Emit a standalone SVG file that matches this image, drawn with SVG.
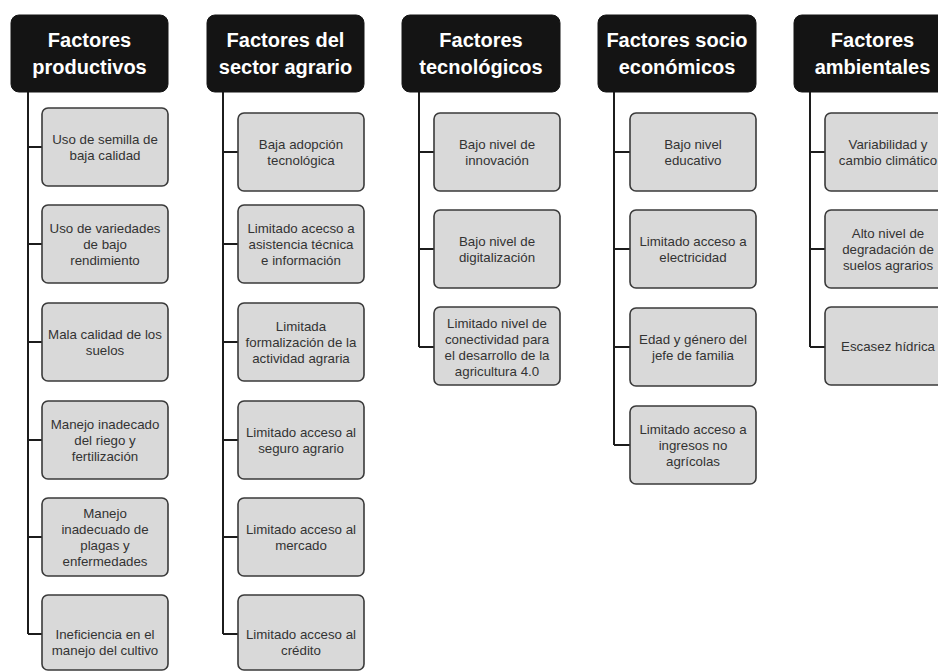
<svg xmlns="http://www.w3.org/2000/svg" width="938" height="671" viewBox="0 0 938 671">
<style>
.hd{fill:#141414;stroke:#141414;stroke-width:1}
.ht{font-family:"Liberation Sans",Arial,sans-serif;font-weight:bold;font-size:20px;fill:#ffffff;text-anchor:middle}
.bx{fill:#d9d9d9;stroke:#3a3a3a;stroke-width:1.6}
.bt{font-family:"Liberation Sans",Arial,sans-serif;font-size:13.3px;fill:#333333;text-anchor:middle}
.cn{stroke:#1c1c1c;stroke-width:2;fill:none}
</style>
<rect width="938" height="671" fill="#ffffff"/>
<g id="connectors">
<path class="cn" d="M28 92V634M28 147H42M28 244H42M28 342H42M28 440H42M28 537H42M28 634H42"/>
<path class="cn" d="M223 92V634M223 152H238M223 244H238M223 342H238M223 440H238M223 537H238M223 634H238"/>
<path class="cn" d="M419 92V347M419 152H434M419 249H434M419 347H434"/>
<path class="cn" d="M614 92V445M614 152H630M614 249H630M614 347H630M614 445H630"/>
<path class="cn" d="M810 92V347M810 152H825M810 249H825M810 347H825"/>
</g>
<g id="h1"><rect class="hd" x="11" y="15" width="157" height="77" rx="8"/><text class="ht" x="89.5" y="47">Factores</text><text class="ht" x="89.5" y="74">productivos</text></g>
<g id="h2"><rect class="hd" x="207" y="15" width="157" height="77" rx="8"/><text class="ht" x="285.5" y="47">Factores del</text><text class="ht" x="285.5" y="74">sector agrario</text></g>
<g id="h3"><rect class="hd" x="402" y="15" width="158" height="77" rx="8"/><text class="ht" x="481" y="47">Factores</text><text class="ht" x="481" y="74">tecnológicos</text></g>
<g id="h4"><rect class="hd" x="598" y="15" width="158" height="77" rx="8"/><text class="ht" x="677" y="47">Factores socio</text><text class="ht" x="677" y="74">económicos</text></g>
<g id="h5"><rect class="hd" x="794" y="15" width="158" height="77" rx="8"/><text class="ht" x="872.5" y="47">Factores</text><text class="ht" x="872.5" y="74">ambientales</text></g>

<g id="c1n1"><rect class="bx" x="42" y="108" width="126" height="78" rx="6"/><text class="bt" x="105" y="143.5">Uso de semilla de</text><text class="bt" x="105" y="159.5">baja calidad</text></g>
<g id="c1n2"><rect class="bx" x="42" y="205" width="126" height="78" rx="6"/><text class="bt" x="105" y="232.5">Uso de variedades</text><text class="bt" x="105" y="248.5">de bajo</text><text class="bt" x="105" y="264.5">rendimiento</text></g>
<g id="c1n3"><rect class="bx" x="42" y="303" width="126" height="78" rx="6"/><text class="bt" x="105" y="338.5">Mala calidad de los</text><text class="bt" x="105" y="354.5">suelos</text></g>
<g id="c1n4"><rect class="bx" x="42" y="401" width="126" height="78" rx="6"/><text class="bt" x="105" y="428.5">Manejo inadecado</text><text class="bt" x="105" y="444.5">del riego y</text><text class="bt" x="105" y="460.5">fertilización</text></g>
<g id="c1n5"><rect class="bx" x="42" y="498" width="126" height="78" rx="6"/><text class="bt" x="105" y="517.5">Manejo</text><text class="bt" x="105" y="533.5">inadecuado de</text><text class="bt" x="105" y="549.5">plagas y</text><text class="bt" x="105" y="565.5">enfermedades</text></g>
<g id="c1n6"><rect class="bx" x="42" y="595" width="126" height="75" rx="6"/><text class="bt" x="105" y="638.5">Ineficiencia en el</text><text class="bt" x="105" y="654.5">manejo del cultivo</text></g>

<g id="c2n1"><rect class="bx" x="238" y="113" width="126" height="78" rx="6"/><text class="bt" x="301" y="148.5">Baja adopción</text><text class="bt" x="301" y="164.5">tecnológica</text></g>
<g id="c2n2"><rect class="bx" x="238" y="205" width="126" height="78" rx="6"/><text class="bt" x="301" y="232.5">Limitado acecso a</text><text class="bt" x="301" y="248.5">asistencia técnica</text><text class="bt" x="301" y="264.5">e información</text></g>
<g id="c2n3"><rect class="bx" x="238" y="303" width="126" height="78" rx="6"/><text class="bt" x="301" y="330.5">Limitada</text><text class="bt" x="301" y="346.5">formalización de la</text><text class="bt" x="301" y="362.5">actividad agraria</text></g>
<g id="c2n4"><rect class="bx" x="238" y="401" width="126" height="78" rx="6"/><text class="bt" x="301" y="436.5">Limitado acceso al</text><text class="bt" x="301" y="452.5">seguro agrario</text></g>
<g id="c2n5"><rect class="bx" x="238" y="498" width="126" height="78" rx="6"/><text class="bt" x="301" y="533.5">Limitado acceso al</text><text class="bt" x="301" y="549.5">mercado</text></g>
<g id="c2n6"><rect class="bx" x="238" y="595" width="126" height="75" rx="6"/><text class="bt" x="301" y="638.5">Limitado acceso al</text><text class="bt" x="301" y="654.5">crédito</text></g>

<g id="c3n1"><rect class="bx" x="434" y="113" width="126" height="78" rx="6"/><text class="bt" x="497" y="148.5">Bajo nivel de</text><text class="bt" x="497" y="164.5">innovación</text></g>
<g id="c3n2"><rect class="bx" x="434" y="210" width="126" height="78" rx="6"/><text class="bt" x="497" y="245.5">Bajo nivel de</text><text class="bt" x="497" y="261.5">digitalización</text></g>
<g id="c3n3"><rect class="bx" x="434" y="307" width="126" height="78" rx="6"/><text class="bt" x="497" y="327.5">Limitado nivel de</text><text class="bt" x="497" y="343.5">conectividad para</text><text class="bt" x="497" y="359.5">el desarrollo de la</text><text class="bt" x="497" y="375.5">agricultura 4.0</text></g>

<g id="c4n1"><rect class="bx" x="630" y="113" width="126" height="78" rx="6"/><text class="bt" x="693" y="148.5">Bajo nivel</text><text class="bt" x="693" y="164.5">educativo</text></g>
<g id="c4n2"><rect class="bx" x="630" y="210" width="126" height="78" rx="6"/><text class="bt" x="693" y="245.5">Limitado acceso a</text><text class="bt" x="693" y="261.5">electricidad</text></g>
<g id="c4n3"><rect class="bx" x="630" y="308" width="126" height="78" rx="6"/><text class="bt" x="693" y="343.5">Edad y género del</text><text class="bt" x="693" y="359.5">jefe de familia</text></g>
<g id="c4n4"><rect class="bx" x="630" y="406" width="126" height="78" rx="6"/><text class="bt" x="693" y="433.5">Limitado acceso a</text><text class="bt" x="693" y="449.5">ingresos no</text><text class="bt" x="693" y="465.5">agrícolas</text></g>

<g id="c5n1"><rect class="bx" x="825" y="113" width="126" height="78" rx="6"/><text class="bt" x="888" y="148.5">Variabilidad y</text><text class="bt" x="888" y="164.5">cambio climático</text></g>
<g id="c5n2"><rect class="bx" x="825" y="210" width="126" height="78" rx="6"/><text class="bt" x="888" y="237.5">Alto nivel de</text><text class="bt" x="888" y="253.5">degradación de</text><text class="bt" x="888" y="269.5">suelos agrarios</text></g>
<g id="c5n3"><rect class="bx" x="825" y="307" width="126" height="78" rx="6"/><text class="bt" x="888" y="350.5">Escasez hídrica</text></g>
</svg>
